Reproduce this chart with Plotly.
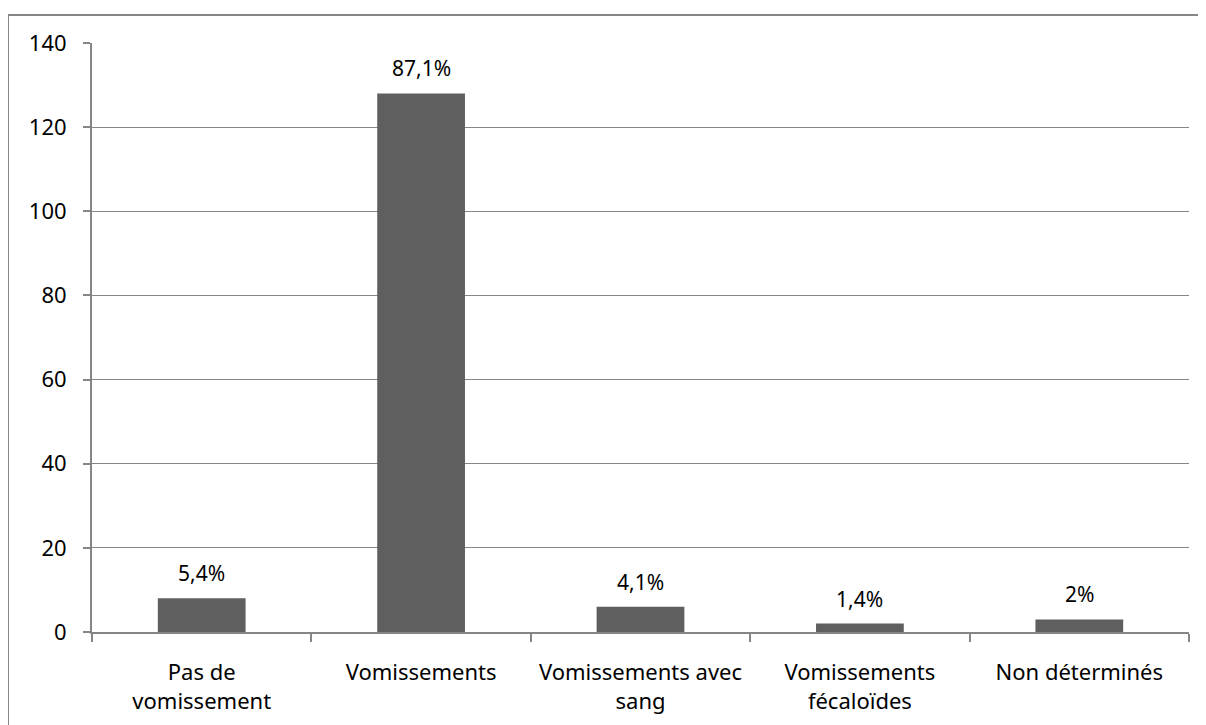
import plotly.graph_objects as go

# ─── data ─────────────────────────────────────────────────────────────────────
categories = ["Pas de<br>vomissement", "Vomissements", "Vomissements avec<br>sang",
              "Vomissements<br>fécaloïdes", "Non déterminés"]
counts = [8, 128, 6, 2, 3]
pct_labels = ["5,4%", "87,1%", "4,1%", "1,4%", "2%"]
y_ticks = [0, 20, 40, 60, 80, 100, 120, 140]

GRAY = "#868686"
FONT = "Noto Sans"

fig = go.Figure(go.Bar(
    x=categories, y=counts,
    marker=dict(color="#5f5f5f", line=dict(width=0)),
    width=0.4,
))

# percentage labels above the bars
for cat, val, lab in zip(categories, counts, pct_labels):
    fig.add_annotation(x=cat, y=val, text=lab, showarrow=False,
                       yanchor="bottom", yshift=9,
                       font=dict(family=FONT, size=21, color="#000000"))

fig.update_layout(
    width=1206, height=725,
    margin=dict(l=84, r=25, t=35, b=101),
    plot_bgcolor="white", paper_bgcolor="white",
    showlegend=False,
    font=dict(family=FONT, size=22, color="#000000"),
    # outer chart frame (runs past the right and bottom edges)
    shapes=[dict(type="rect", xref="paper", yref="paper",
                 x0=-0.0766, x1=1.04, y0=-0.25, y1=1.0475,
                 line=dict(color=GRAY, width=2), layer="below")],
)
fig.update_xaxes(
    showline=True, linecolor=GRAY, linewidth=2,
    ticks="outside", tickson="boundaries", ticklen=8, tickcolor=GRAY, tickwidth=2,
    showgrid=False, tickfont=dict(family=FONT, size=22), ticklabelstandoff=20,
)
fig.update_yaxes(
    range=[0, 140], tickvals=y_ticks,
    showline=True, linecolor=GRAY, linewidth=2,
    ticks="outside", ticklen=7, tickcolor=GRAY, tickwidth=2,
    showgrid=True, gridcolor=GRAY, gridwidth=1, zeroline=False,
    tickfont=dict(family=FONT, size=22), ticklabelstandoff=12,
)

fig.write_html("out.html")
